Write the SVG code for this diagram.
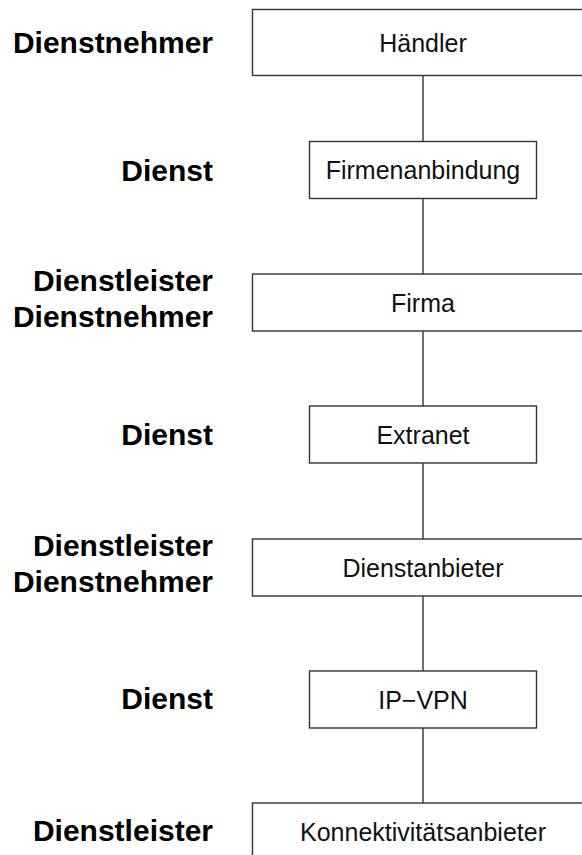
<svg xmlns="http://www.w3.org/2000/svg" width="582" height="855" viewBox="0 0 582 855">
<style>
.box{fill:#fff;stroke:#333;stroke-width:1.4}
.lbl{font-family:"Liberation Sans",Arial,sans-serif;font-weight:bold;font-size:30px;fill:#000;text-anchor:end}
.txt{font-family:"Liberation Sans",Arial,sans-serif;font-size:25px;fill:#111;text-anchor:middle}
.con{stroke:#333;stroke-width:1.4;fill:none}
</style>
<rect width="582" height="855" fill="#fff"/>
<g id="connectors">
<line class="con" x1="423" y1="75.5" x2="423" y2="141.5"/>
<line class="con" x1="423" y1="198.5" x2="423" y2="274"/>
<line class="con" x1="423" y1="331" x2="423" y2="406"/>
<line class="con" x1="423" y1="463" x2="423" y2="539"/>
<line class="con" x1="423" y1="596" x2="423" y2="671"/>
<line class="con" x1="423" y1="728" x2="423" y2="803"/>
</g>
<g id="haendler">
<rect class="box" x="252.5" y="9.5" width="345" height="66"/>
<text class="txt" x="423" y="51.5">Händler</text>
</g>
<g id="firmenanbindung">
<rect class="box" x="309.5" y="141.5" width="227" height="57"/>
<text class="txt" x="423" y="179">Firmenanbindung</text>
</g>
<g id="firma">
<rect class="box" x="252.5" y="274" width="345" height="57"/>
<text class="txt" x="423" y="311.5">Firma</text>
</g>
<g id="extranet">
<rect class="box" x="309.5" y="406" width="227" height="57"/>
<text class="txt" x="423" y="443.5">Extranet</text>
</g>
<g id="dienstanbieter">
<rect class="box" x="252.5" y="539" width="345" height="57"/>
<text class="txt" x="423" y="576.5">Dienstanbieter</text>
</g>
<g id="ipvpn">
<rect class="box" x="309.5" y="671" width="227" height="57"/>
<text class="txt" x="423" y="708.5">IP−VPN</text>
</g>
<g id="konnektivitaetsanbieter">
<rect class="box" x="252.5" y="803" width="345" height="80"/>
<text class="txt" x="423" y="840.5">Konnektivitätsanbieter</text>
</g>
<g id="labels">
<text class="lbl" x="213" y="53">Dienstnehmer</text>
<text class="lbl" x="213" y="180.5">Dienst</text>
<text class="lbl" x="213" y="291">Dienstleister</text>
<text class="lbl" x="213" y="327">Dienstnehmer</text>
<text class="lbl" x="213" y="445">Dienst</text>
<text class="lbl" x="213" y="556">Dienstleister</text>
<text class="lbl" x="213" y="592">Dienstnehmer</text>
<text class="lbl" x="213" y="709">Dienst</text>
<text class="lbl" x="213" y="841">Dienstleister</text>
</g>
</svg>
